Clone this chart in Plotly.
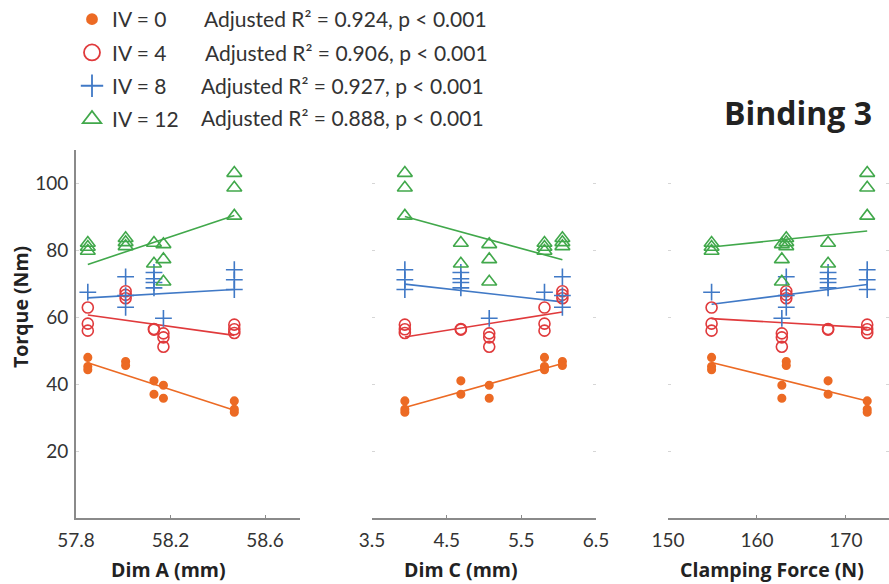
import plotly.graph_objects as go

# ---------------- data ----------------
iv_labels = ["IV = 0", "IV = 4", "IV = 8", "IV = 12"]
r2_texts = ["Adjusted R² = 0.924, p < 0.001",
            "Adjusted R² = 0.906, p < 0.001",
            "Adjusted R² = 0.927, p < 0.001",
            "Adjusted R² = 0.888, p < 0.001"]

# one entry per binding sample
dim_a = [57.85, 58.01, 58.13, 58.17, 58.47]
dim_c = [5.81, 6.05, 4.69, 5.07, 3.94]
clamp = [154.9, 163.3, 168.0, 162.8, 172.4]

torque_iv0 = [[48.0, 45.3, 44.3], [46.8, 45.6], [41.0, 37.0], [39.7, 35.8], [35.0, 32.5, 31.6]]
torque_iv4 = [[62.9, 58.1, 56.0], [67.8, 66.7, 65.7], [56.5, 56.3], [55.2, 54.0, 51.2], [57.8, 56.4, 55.3]]
torque_iv8 = [[67.5], [72.1, 66.5, 63.0], [73.4, 71.5, 70.4, 68.8], [59.7], [74.2, 71.2, 68.3]]
torque_iv12 = [[82.2, 81.0, 79.8], [83.6, 82.4, 81.2], [82.2, 76.0], [81.8, 77.3, 70.6], [103.1, 98.7, 90.3]]

# fitted line endpoints
fit_x_dim_a = [57.85, 58.47]
fit_x_dim_c = [3.94, 6.05]
fit_x_clamp = [154.9, 172.4]
fit_dim_a = [[46.4, 32.2], [60.7, 54.6], [65.8, 68.3], [75.8, 90.4]]
fit_dim_c = [[33.0, 46.2], [54.1, 61.6], [69.9, 64.6], [90.1, 77.2]]
fit_clamp = [[46.5, 35.0], [59.6, 56.9], [63.9, 69.8], [81.0, 85.8]]

x_titles = ["Dim A (mm)", "Dim C (mm)", "Clamping Force (N)"]
x_ticks = [[57.8, 58.2, 58.6], [3.5, 4.5, 5.5, 6.5], [150, 160, 170]]
x_ranges = [[57.8, 58.748], [3.5, 6.5], [150, 174.85]]
y_ticks = [20, 40, 60, 80, 100]

# ---------------- styles ----------------
colors = ["#EC6A24", "#E03A3C", "#4079C6", "#41A84B"]
symbols = ["circle", "circle-open", "cross-thin-open", "triangle-up-open"]
sizes = [7.5, 11, 12, 13]
leg_sizes = [10, 16, 16, 16]
FONT = "Lato"
BFONT = "Open Sans"
TXT = "#333333"
AXC = "#8a8a8a"
FAINT = "#d6d6d6"

torques = [torque_iv0, torque_iv4, torque_iv8, torque_iv12]
xs_all = [dim_a, dim_c, clamp]
fit_x_all = [fit_x_dim_a, fit_x_dim_c, fit_x_clamp]
fit_all = [fit_dim_a, fit_dim_c, fit_clamp]

fig = go.Figure()

for p in range(3):
    xa = "x" if p == 0 else f"x{p+1}"
    ya = "y" if p == 0 else f"y{p+1}"
    for k in range(4):
        fig.add_trace(go.Scatter(
            x=fit_x_all[p], y=fit_all[p][k], mode="lines",
            line=dict(color=colors[k], width=1.6),
            xaxis=xa, yaxis=ya, showlegend=False, hoverinfo="skip"))
    for k in range(4):
        px_, py_ = [], []
        for xv, vals in zip(xs_all[p], torques[k]):
            for v in vals:
                px_.append(xv)
                py_.append(v)
        fig.add_trace(go.Scatter(
            x=px_, y=py_, mode="markers",
            marker=dict(symbol=symbols[k], size=sizes[k], color=colors[k],
                        line=dict(color=colors[k], width=1.6)),
            xaxis=xa, yaxis=ya, showlegend=False, name=iv_labels[k]))

# legend-only entries
for k in range(4):
    fig.add_trace(go.Scatter(
        x=[None], y=[None], mode="markers", name=iv_labels[k],
        legendgroup=f"g{k}",
        marker=dict(symbol=symbols[k], size=leg_sizes[k], color=colors[k],
                    line=dict(color=colors[k], width=1.8)),
        showlegend=True))

W, H = 889, 584
ML, MT, MB = 76, 150, 66
PH = H - MT - MB
plot_l, plot_w = 76, 813
pan = [(76, 300), (372, 596), (668, 889)]
for p in range(3):
    dom = [(pan[p][0] - plot_l) / plot_w, (pan[p][1] - plot_l) / plot_w]
    xkey = "xaxis" if p == 0 else f"xaxis{p+1}"
    ykey = "yaxis" if p == 0 else f"yaxis{p+1}"
    xname = "x" if p == 0 else f"x{p+1}"
    yname = "y" if p == 0 else f"y{p+1}"
    fig.layout[xkey] = dict(
        domain=dom, range=x_ranges[p], tickvals=x_ticks[p],
        ticktext=[str(t) for t in x_ticks[p]],
        showgrid=False, zeroline=False, showline=True, linecolor=AXC, linewidth=2,
        ticks="inside", ticklen=3, tickcolor=AXC, ticklabelstandoff=4,
        tickfont=dict(family=FONT, size=19, color=TXT), anchor=yname)
    fig.layout[ykey] = dict(
        domain=[0, 1], range=[0, 110], tickvals=y_ticks,
        showgrid=False, zeroline=False, showline=(p == 0), linecolor=AXC, linewidth=2,
        ticks="inside", ticklen=3, tickcolor=FAINT,
        mirror=(False if p == 0 else "ticks"),
        showticklabels=(p == 0), ticklabelstandoff=2,
        tickfont=dict(family=FONT, size=19, color=TXT), anchor=xname)
    fig.layout[f"xaxis{p+4}"] = dict(
        overlaying=xname, side="top", anchor=yname, range=x_ranges[p], tickvals=x_ticks[p],
        showgrid=False, zeroline=False, showline=False, ticks="inside", ticklen=3,
        tickcolor=FAINT, showticklabels=False)
fig.layout["yaxis4"] = dict(
    overlaying="y", side="right", anchor="x", range=[0, 110], tickvals=y_ticks,
    showgrid=False, zeroline=False, showline=False, ticks="inside", ticklen=3,
    tickcolor=FAINT, showticklabels=False)

annotations = []
title_cx = [168, 461, 772]
for p in range(3):
    annotations.append(dict(
        text=f"<b>{x_titles[p]}</b>", x=(title_cx[p] - plot_l) / plot_w, y=(518 - 569) / 368,
        xref="paper", yref="paper", showarrow=False, xanchor="center", yanchor="middle",
        font=dict(family=BFONT, size=19.5, color="#222")))
annotations.append(dict(
    text="<b>Torque (Nm)</b>", x=(20 - plot_l) / plot_w, y=(518 - 307) / 368,
    xref="paper", yref="paper", showarrow=False, textangle=-90,
    xanchor="center", yanchor="middle", font=dict(family=BFONT, size=19.5, color="#222")))
annotations.append(dict(
    text="<b>Binding 3</b>", x=(874 - plot_l) / plot_w, y=(518 - 113) / 368,
    xref="paper", yref="paper", showarrow=False, xanchor="right", yanchor="middle",
    font=dict(family=BFONT, size=32, color="#222")))
row_y = [18, 52, 85, 117]
row_x = [202, 203, 199, 199]
for k in range(4):
    annotations.append(dict(
        text=r2_texts[k], x=(row_x[k] - plot_l) / plot_w, y=(518 - row_y[k]) / 368,
        xref="paper", yref="paper", showarrow=False, xanchor="left", yanchor="middle",
        font=dict(family=FONT, size=21, color=TXT)))

leg_left, leg_top = 72, -1          # figure pixels
fig.update_layout(
    width=W, height=H,
    margin=dict(l=ML, r=0, t=MT, b=MB, autoexpand=False),
    paper_bgcolor="white", plot_bgcolor="white",
    font=dict(family=FONT, color=TXT),
    annotations=annotations,
    legend=dict(xref="paper", yref="paper",
                x=(leg_left - ML) / plot_w, y=1 + (MT - leg_top) / PH,
                xanchor="left", yanchor="top", itemsizing="trace",
                font=dict(family=FONT, size=21, color=TXT), bgcolor="rgba(0,0,0,0)",
                tracegroupgap=3, itemclick=False),
    showlegend=True,
)

fig.write_html("out.html", config={"displayModeBar": False},
               post_script="document.body.style.margin='0px';document.body.style.overflow='hidden';")
